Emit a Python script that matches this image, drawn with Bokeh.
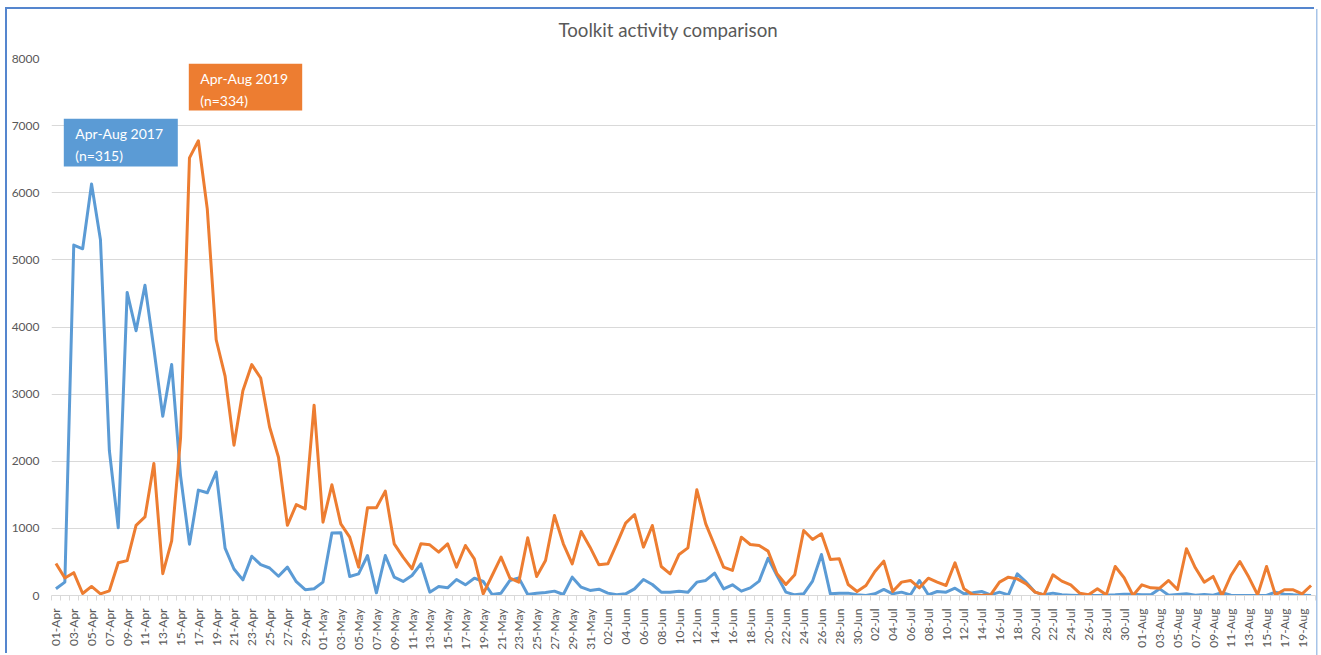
import math
import pandas as pd
from bokeh.plotting import figure
from bokeh.models import Range1d, FixedTicker, Label, BoxAnnotation, ColumnDataSource, Title
from bokeh.embed import file_html
from bokeh.resources import INLINE

# ---------------- data ----------------
dates = list(pd.date_range("2019-04-01", periods=142, freq="D").strftime("%d-%b"))

activity_2017 = [
    100, 200, 5220, 5165, 6130, 5300, 2160, 1010, 4515, 3945,
    4623, 3675, 2670, 3440, 1780, 765, 1570, 1530, 1840, 705,
    395, 233, 585, 460, 410, 287, 423, 205, 87, 100,
    200, 930, 935, 283, 323, 596, 40, 596, 273, 209,
    298, 472, 50, 134, 114, 238, 159, 258, 209, 15,
    35, 224, 263, 15, 35, 45, 65, 15, 273, 124,
    75, 94, 35, 10, 25, 99, 238, 164, 50, 50,
    65, 50, 199, 224, 333, 99, 159, 65, 114, 214,
    556, 298, 50, 10, 25, 214, 611, 25, 35, 35,
    10, 0, 25, 90, 25, 50, 10, 224, 10, 60,
    50, 109, 25, 40, 60, 10, 50, 10, 323, 199,
    50, 10, 35, 10, 5, 0, 0, 0, 5, 10,
    20, 20, 10, 10, 99, 5, 15, 25, 5, 15,
    5, 40, 5, 0, 0, 0, 0, 50, 20, 10,
    5, 0,
]

activity_2019 = [
    477, 260, 340, 30, 135, 25, 70, 488, 520, 1045,
    1170, 1967, 325, 813, 2350, 6520, 6775, 5760, 3810, 3268,
    2240, 3050, 3440, 3240, 2510, 2060, 1045, 1355, 1290, 2835,
    1093, 1650, 1068, 870, 422, 1307, 1307, 1555, 770, 571,
    397, 770, 755, 646, 770, 422, 745, 546, 25, 298,
    571, 258, 199, 860, 283, 522, 1192, 770, 472, 954,
    720, 457, 472, 770, 1078, 1207, 720, 1043, 432, 323,
    611, 710, 1575, 1068, 745, 422, 373, 869, 760, 745,
    661, 323, 164, 308, 969, 835, 919, 537, 546, 164,
    60, 149, 358, 512, 60, 199, 224, 114, 258, 199,
    149, 487, 99, 10, 0, 10, 199, 273, 248, 174,
    50, 10, 308, 214, 159, 35, 10, 99, 10, 432,
    264, 0, 159, 114, 109, 224, 90, 697, 413, 199,
    284, 0, 298, 507, 274, 10, 432, 10, 85, 85,
    25, 149,
]

series_labels = ["Apr-Aug 2017\n(n=315)", "Apr-Aug 2019\n(n=334)"]
series_colors = ["#5B9BD5", "#ED7D31"]
chart_title = "Toolkit activity comparison"
y_ticks = [0, 1000, 2000, 3000, 4000, 5000, 6000, 7000, 8000]

# ---------------- figure ----------------
idx = list(range(len(dates)))
src = ColumnDataSource(dict(x=idx, a=activity_2017, b=activity_2019))

p = figure(width=1309, height=646, output_backend="svg", toolbar_location=None,
           x_range=Range1d(-0.5, len(dates) - 0.5), y_range=Range1d(0, y_ticks[-1]),
           min_border_left=44, min_border_right=1, min_border_top=49, min_border_bottom=60,
           styles={"margin-left": "7px", "margin-top": "9px",
                   "box-shadow": "-2px -2px 0 0 #5586CE, 1.5px 0 0 0 #A7C4E8"})
p.outline_line_color = None
p.background_fill_color = "white"
p.border_fill_color = "white"

# title (outermost) plus a thin spacer panel between title and frame
p.title = Title(text=chart_title, align="left", offset=507, text_font="Lato",
                text_font_size="18.7px", text_font_style="normal", text_color="#595959",
                standoff=12)
p.above = [Title(text=" ", text_font_size="8.5px", standoff=0)]

# grid
p.xgrid.grid_line_color = None
p.ygrid.grid_line_color = "#D9D9D9"
p.ygrid.grid_line_width = 1
p.yaxis.ticker = FixedTicker(ticks=y_ticks)

# y axis
p.yaxis.axis_line_color = None
p.yaxis.major_tick_line_color = None
p.yaxis.minor_tick_line_color = None
p.yaxis.major_tick_out = 0
p.yaxis.major_tick_in = 0
p.yaxis.minor_tick_out = 0
p.yaxis.minor_tick_in = 0
p.yaxis.major_label_text_font = "Lato"
p.yaxis.major_label_text_font_size = "12px"
p.yaxis.major_label_text_color = "#595959"
p.yaxis.major_label_standoff = 12

# x axis
label_ticks = [i for i in idx if i % 2 == 0]
p.xaxis.ticker = FixedTicker(ticks=label_ticks,
                             minor_ticks=[i - 0.5 for i in idx] + [idx[-1] + 0.5])
p.xaxis.major_label_overrides = {i: dates[i] for i in label_ticks}
p.xaxis.axis_line_color = "#D9D9D9"
p.xaxis.major_tick_line_color = None
p.xaxis.major_tick_out = 0
p.xaxis.major_tick_in = 0
p.xaxis.minor_tick_line_color = "#D9D9D9"
p.xaxis.minor_tick_out = 5
p.xaxis.minor_tick_in = 0
p.xaxis.major_label_orientation = math.pi / 2
p.xaxis.major_label_text_font = "Lato"
p.xaxis.major_label_text_font_size = "12px"
p.xaxis.major_label_text_color = "#595959"
p.xaxis.major_label_standoff = 8

# lines
p.line("x", "a", source=src, line_color=series_colors[0], line_width=3, line_join="round")
p.line("x", "b", source=src, line_color=series_colors[1], line_width=3, line_join="round")

# series boxes
boxes = [
    (12.3, 126.3, 429.0, 476.7),   # 2017
    (137.3, 250.7, 485.0, 531.7),  # 2019
]
for (l, r, b, t), txt, col in zip(boxes, series_labels, series_colors):
    p.add_layout(BoxAnnotation(left=l, right=r, bottom=b, top=t,
                               left_units="screen", right_units="screen",
                               bottom_units="screen", top_units="screen",
                               fill_color=col, fill_alpha=1.0, line_color=None))
    p.add_layout(Label(x=l + 11.5, y=t - 6, x_units="screen", y_units="screen", text=txt,
                       text_align="left", text_baseline="top", text_font="Lato",
                       text_font_size="14px", text_color="white", text_line_height=1.3))

open("out.html", "w").write(file_html(p, INLINE))
